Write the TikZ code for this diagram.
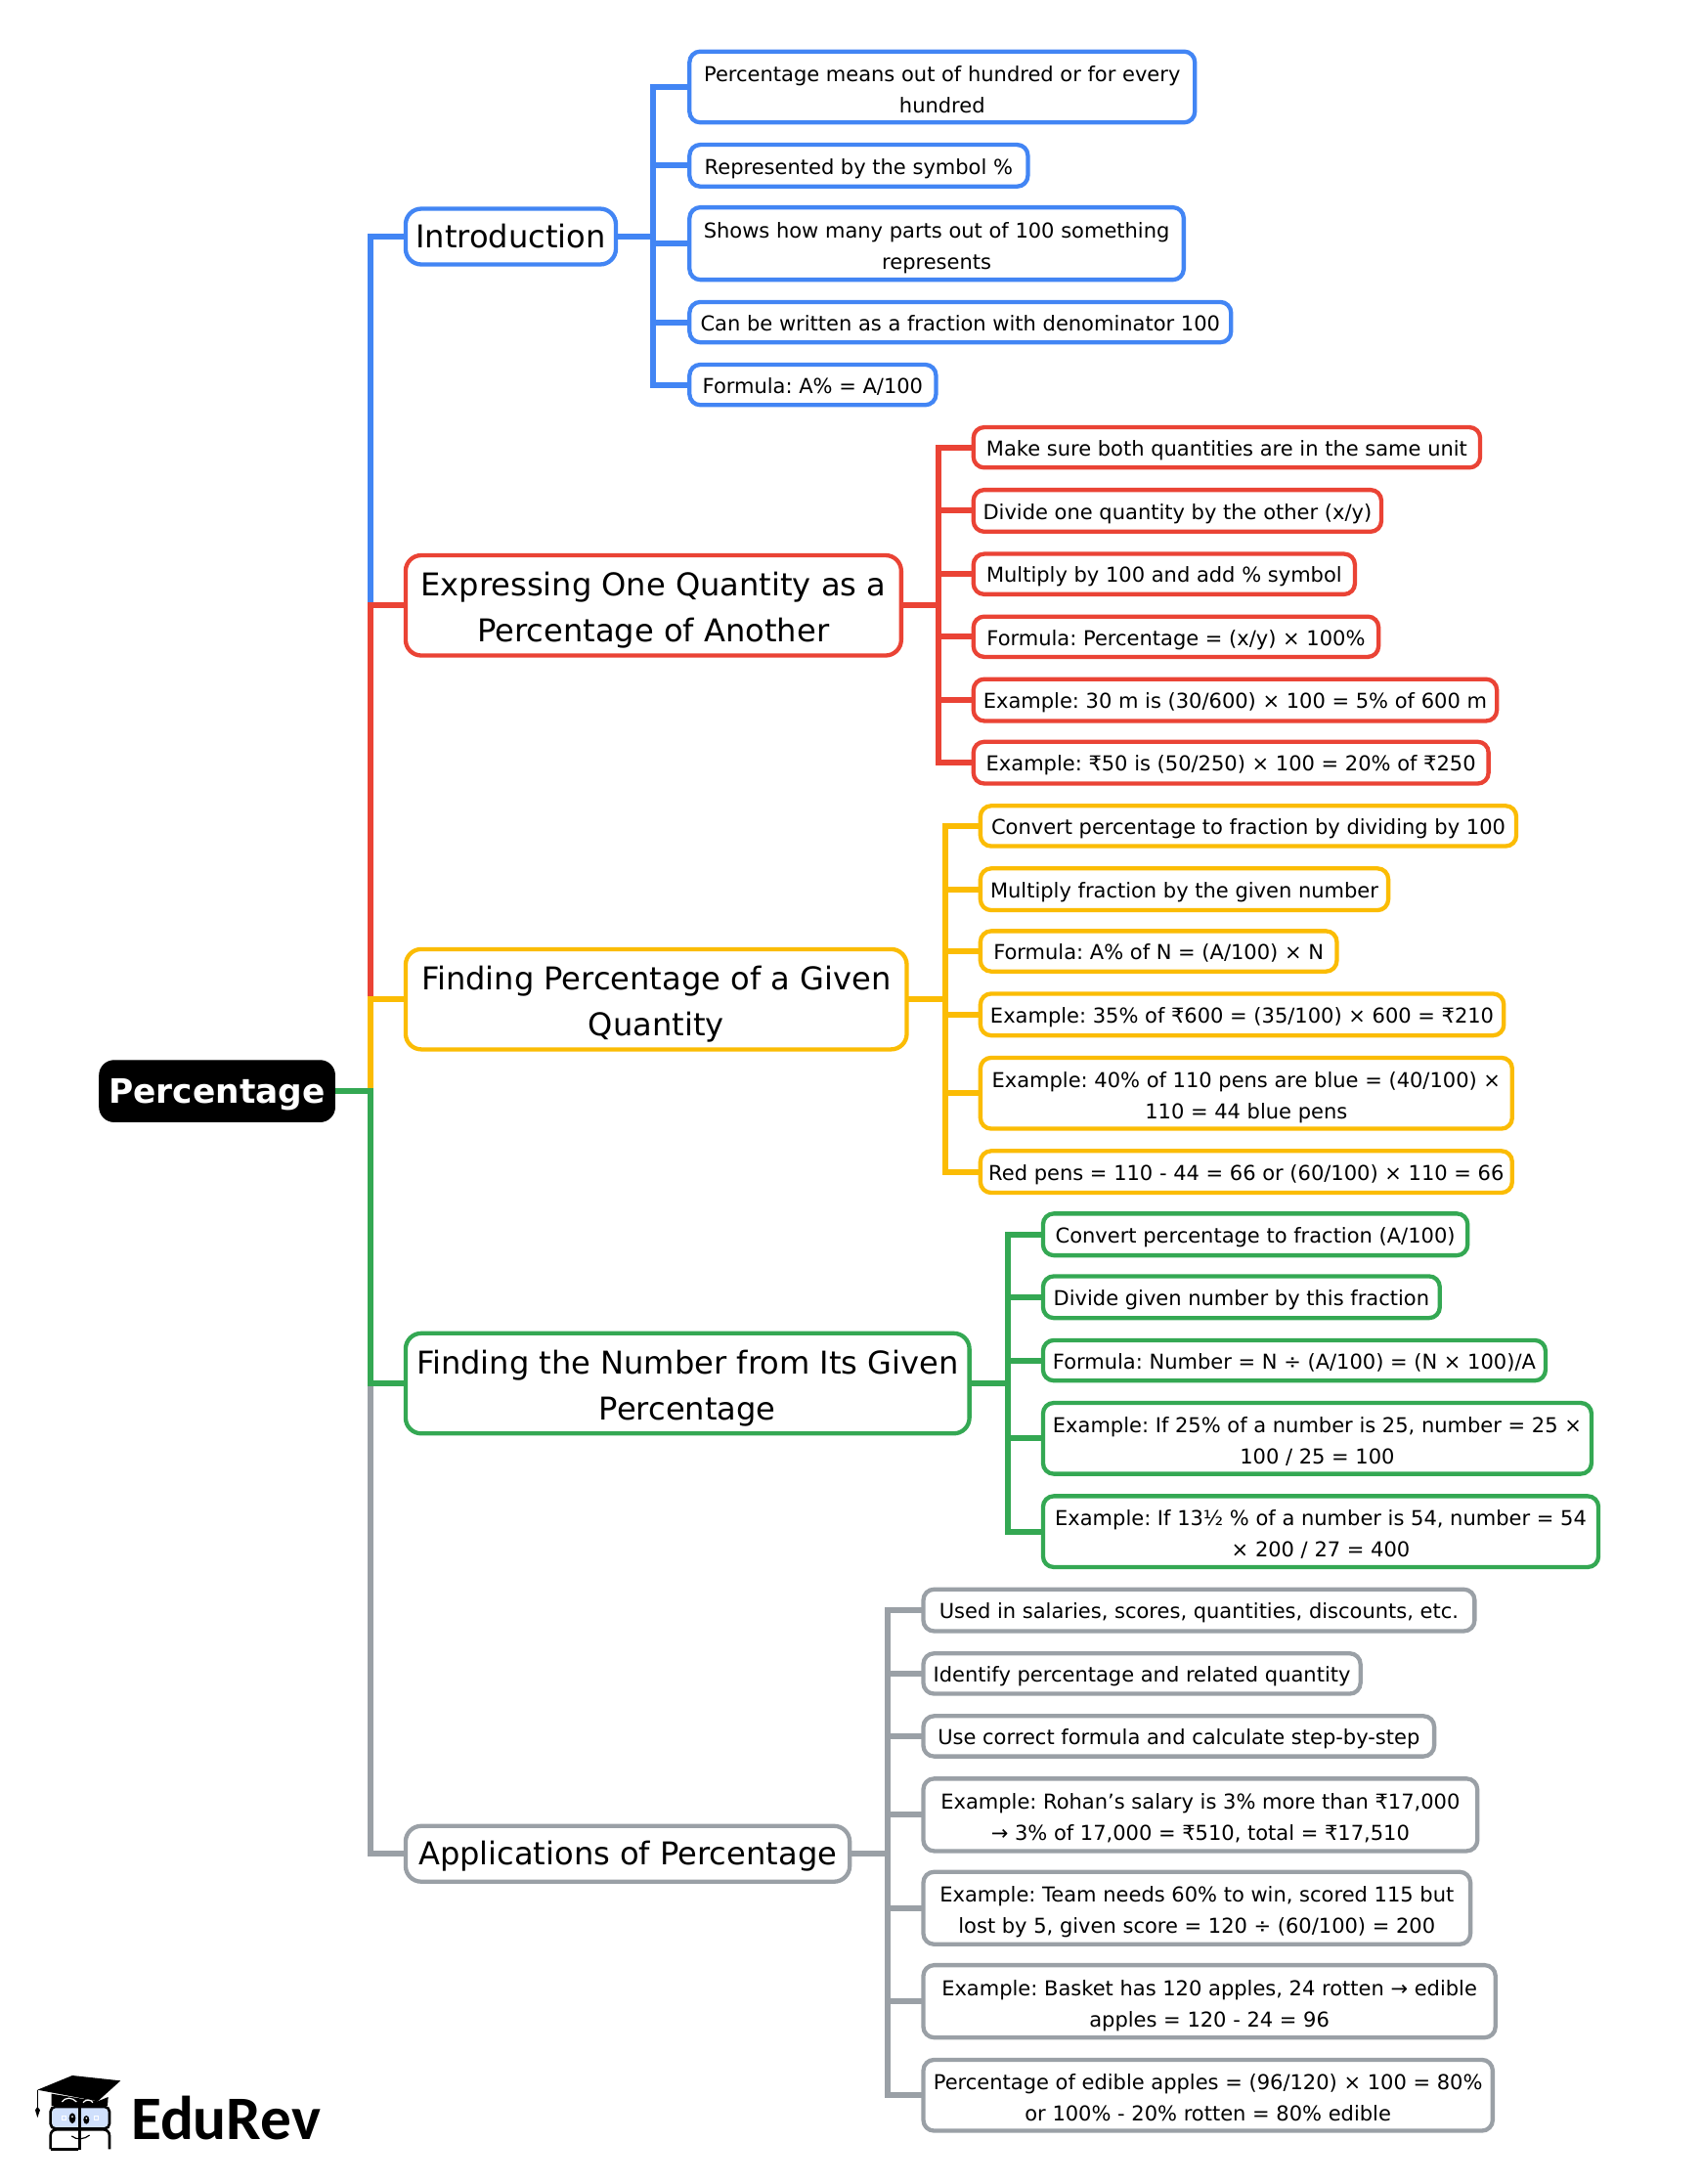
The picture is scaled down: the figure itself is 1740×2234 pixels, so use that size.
\documentclass[tikz,border=0pt]{standalone}
\usepackage{fontspec}
\setmainfont{DejaVu Sans}
\newfontfamily\logofont{Carlito}
\usetikzlibrary{backgrounds}
\definecolor{cblue}{HTML}{4285F4}
\definecolor{cred}{HTML}{EA4335}
\definecolor{cyel}{HTML}{FBBC04}
\definecolor{cgrn}{HTML}{34A853}
\definecolor{cgry}{HTML}{9AA0A6}
\def\SC{1.4236}
\newcommand\headstrut[1]{\leavevmode\vrule height #1 width 0pt\relax}
\newcommand\twoL{\vrule height 29.9pt width 0pt\relax}
\newcommand\twoH{\vrule height 41.3pt width 0pt\relax}
\tikzset{
 x=1pt,y=-1pt,
 leafbox/.style={draw=#1,line width=4.3pt,fill=white,rounded corners=11pt,inner sep=0pt,inner ysep=-1pt,outer sep=0pt,align=center,text=black,font=\fontsize{21}{32}\selectfont,execute at begin node={\headstrut{27pt}},execute at end node={\strut}},
 headbox/.style={draw=#1,line width=4.3pt,fill=white,rounded corners=16pt,inner sep=0pt,inner ysep=-2.5pt,outer sep=0pt,align=center,text=black,font=\fontsize{32.1}{46.5}\selectfont,execute at begin node={\headstrut{36.5pt}},execute at end node={\strut}},
 rootbox/.style={draw=black,line width=1pt,fill=black,rounded corners=15pt,inner sep=0pt,outer sep=0pt,text=white,align=center,font=\fontsize{34.4}{40}\selectfont\bfseries,execute at begin node={\headstrut{37pt}},execute at end node={\strut}},
 conn/.style={draw=#1,line width=6pt},
}
\newcommand\bxnode[7]{%
 \pgfmathsetmacro\cxx{(#2+#4)/2*\SC}%
 \pgfmathsetmacro\cyy{(#3+#5)/2*\SC}%
 \pgfmathsetmacro\wdd{(#4-#2)*\SC-1.3}%
 \pgfmathsetmacro\htt{(#5-#3)*\SC}%
 \node[#6,minimum width=\wdd pt,minimum height=\htt pt] (#1) at (\cxx,\cyy) {#7};}
\newcommand\hubat[2]{\pgfmathsetmacro\cxx{#2*\SC}\coordinate (#1) at (\cxx,0);}
\begin{document}
\frenchspacing
\begin{tikzpicture}
\useasboundingbox (0,0) rectangle (1740,2234);
\hubat{trunk}{266}
\hubat{hubA}{469}
\hubat{hubB}{674}
\hubat{hubC}{679}
\hubat{hubD}{724}
\hubat{hubE}{638}

\bxnode{root}{71}{762}{241}{806}{rootbox}{Percentage}
\bxnode{intro}{291}{150}{443}{190}{headbox=cblue}{Introduction}
\bxnode{expr}{291}{399}{648}{471}{headbox=cred}{\twoH Expressing One Quantity as a\\Percentage of Another}
\bxnode{find}{291}{682}{652}{754}{headbox=cyel}{\twoH Finding Percentage of a Given\\Quantity}
\bxnode{numb}{291}{958}{697}{1030}{headbox=cgrn}{\twoH Finding the Number from Its Given\\Percentage}
\bxnode{appl}{291}{1312}{611}{1352}{headbox=cgry}{Applications of Percentage}

\bxnode{a1}{495}{37}{859}{88}{leafbox=cblue}{\twoL Percentage means out of hundred or for every\\hundred}
\bxnode{a2}{495}{104}{739}{134}{leafbox=cblue}{Represented by the symbol \%}
\bxnode{a3}{495}{149}{851}{201}{leafbox=cblue}{\twoL Shows how many parts out of 100 something\\represents}
\bxnode{a4}{495}{217}{885}{246}{leafbox=cblue}{Can be written as a fraction with denominator 100}
\bxnode{a5}{495}{262}{673}{291}{leafbox=cblue}{Formula: A\% = A/100}

\bxnode{b1}{699}{307}{1064}{336}{leafbox=cred}{Make sure both quantities are in the same unit}
\bxnode{b2}{699}{352}{993}{382}{leafbox=cred}{Divide one quantity by the other (x/y)}
\bxnode{b3}{699}{398}{974}{427}{leafbox=cred}{Multiply by 100 and add \% symbol}
\bxnode{b4}{699}{443}{991}{472}{leafbox=cred}{Formula: Percentage = (x/y) × 100\%}
\bxnode{b5}{699}{488}{1076}{518}{leafbox=cred}{Example: 30 m is (30/600) × 100 = 5\% of 600 m}
\bxnode{b6}{699}{533}{1070}{563}{leafbox=cred}{Example: ₹50 is (50/250) × 100 = 20\% of ₹250}

\bxnode{c1}{704}{579}{1090}{608}{leafbox=cyel}{Convert percentage to fraction by dividing by 100}
\bxnode{c2}{704}{624}{998}{654}{leafbox=cyel}{Multiply fraction by the given number}
\bxnode{c3}{704}{669}{961}{698}{leafbox=cyel}{Formula: A\% of N = (A/100) × N}
\bxnode{c4}{704}{714}{1081}{744}{leafbox=cyel}{Example: 35\% of ₹600 = (35/100) × 600 = ₹210}
\bxnode{c5}{704}{760}{1087}{811}{leafbox=cyel}{\twoL Example: 40\% of 110 pens are blue = (40/100) ×\\110 = 44 blue pens}
\bxnode{c6}{704}{827}{1087}{857}{leafbox=cyel}{Red pens = 110 - 44 = 66 or (60/100) × 110 = 66}

\bxnode{d1}{749}{872}{1055}{902}{leafbox=cgrn}{Convert percentage to fraction (A/100)}
\bxnode{d2}{749}{917}{1035}{947}{leafbox=cgrn}{Divide given number by this fraction}
\bxnode{d3}{749}{963}{1111}{992}{leafbox=cgrn}{Formula: Number = N ÷ (A/100) = (N × 100)/A}
\bxnode{d4}{749}{1008}{1144}{1059}{leafbox=cgrn}{\twoL Example: If 25\% of a number is 25, number = 25 ×\\100 / 25 = 100}
\bxnode{d5}{749}{1075}{1149}{1126}{leafbox=cgrn}{\twoL Example: If 13½ \% of a number is 54, number = 54\\× 200 / 27 = 400}

\bxnode{e1}{663}{1142}{1060}{1172}{leafbox=cgry}{Used in salaries, scores, quantities, discounts, etc.}
\bxnode{e2}{663}{1188}{978}{1217}{leafbox=cgry}{Identify percentage and related quantity}
\bxnode{e3}{663}{1233}{1031}{1262}{leafbox=cgry}{Use correct formula and calculate step-by-step}
\bxnode{e4}{663}{1278}{1062}{1330}{leafbox=cgry}{\twoL Example: Rohan’s salary is 3\% more than ₹17,000\\→ 3\% of 17,000 = ₹510, total = ₹17,510}
\bxnode{e5}{663}{1345}{1057}{1397}{leafbox=cgry}{\twoL Example: Team needs 60\% to win, scored 115 but\\lost by 5, given score = 120 ÷ (60/100) = 200}
\bxnode{e6}{663}{1412}{1075}{1464}{leafbox=cgry}{\twoL Example: Basket has 120 apples, 24 rotten → edible\\apples = 120 - 24 = 96}
\bxnode{e7}{663}{1480}{1073}{1531}{leafbox=cgry}{\twoL Percentage of edible apples = (96/120) × 100 = 80\%\\or 100\% - 20\% rotten = 80\% edible}

\begin{scope}[on background layer]
 \fill[white] (0,0) rectangle (1740,2234);
 \draw[conn=cblue] (root.east) -- (trunk |- root.east) |- (intro.west);
 \draw[conn=cred] (root.east) -- (trunk |- root.east) |- (expr.west);
 \draw[conn=cyel] (root.east) -- (trunk |- root.east) |- (find.west);
 \draw[conn=cgry] (root.east) -- (trunk |- root.east) |- (appl.west);
 \draw[conn=cgrn] (root.east) -- (trunk |- root.east) |- (numb.west);
 \foreach \lf in {a1,a2,a3,a4,a5} {\draw[conn=cblue] (intro.east) -- (hubA |- intro.east) |- (\lf.west);}
 \foreach \lf in {b1,b2,b3,b4,b5,b6} {\draw[conn=cred] (expr.east) -- (hubB |- expr.east) |- (\lf.west);}
 \foreach \lf in {c1,c2,c3,c4,c5,c6} {\draw[conn=cyel] (find.east) -- (hubC |- find.east) |- (\lf.west);}
 \foreach \lf in {d1,d2,d3,d4,d5} {\draw[conn=cgrn] (numb.east) -- (hubD |- numb.east) |- (\lf.west);}
 \foreach \lf in {e1,e2,e3,e4,e5,e6,e7} {\draw[conn=cgry] (appl.east) -- (hubE |- appl.east) |- (\lf.west);}
\end{scope}

% logo
\begin{scope}[shift={(0,2050)},x=0.3333pt,y=-0.3333pt]
 \fill[black] (115,263) -- (222,219) -- (370,235) -- (300,298) -- cycle;
 \fill[black] (158,275) -- (158,312) -- (330,312) -- (332,285) -- (300,298) -- cycle;
 \draw[black,line width=1.2pt] (115,263) -- (115,320);
 \fill[black] (115,315) -- (123,325) -- (115,348) -- (108,325) -- cycle;
 \draw[black,line width=2.6pt,fill=cblue!25!white,rounded corners=5pt] (155,315) rectangle (336,382);
 \draw[black,line width=2.6pt,rounded corners=6pt] (155,445) -- (155,385) -- (336,385) -- (336,445);
 \draw[black,line width=2.6pt] (155,445) -- (240,445);
 \draw[black,line width=2.6pt] (245,312) -- (245,447);
 \fill[black] (222,350) ellipse [x radius=10,y radius=16];
 \fill[black] (265,355) ellipse [x radius=9,y radius=13];
 \fill[white] (222,345) circle [radius=3];
 \fill[white] (265,350) circle [radius=3];
 \draw[white,line width=1pt] (192,342) rectangle (204,354) (290,342) rectangle (302,354);
 \draw[black,line width=1.2pt] (220,405) .. controls (235,418) and (260,415) .. (275,402);
 \draw[white,line width=1.2pt] (190,300) .. controls (200,285) and (222,285) .. (235,300);
 \draw[white,line width=1.2pt] (255,302) .. controls (262,292) and (280,292) .. (285,302);
\end{scope}
\node[inner sep=0pt,outer sep=0pt,anchor=base west,font=\fontsize{63.3}{70}\selectfont\logofont\bfseries] (logo) at (134,2188) {EduRev};
\end{tikzpicture}
\end{document}
